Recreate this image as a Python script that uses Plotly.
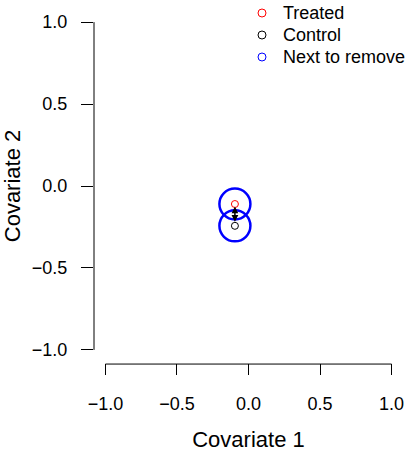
import plotly.graph_objects as go

# data
treated_x = [-0.095]
treated_y = [-0.110]
control_x = [-0.095]
control_y = [-0.243]
remove_x = [-0.095, -0.095]
remove_y = [-0.110, -0.243]
tick_vals = [-1.0, -0.5, 0.0, 0.5, 1.0]
tick_text = ["\u22121.0", "\u22120.5", "0.0", "0.5", "1.0"]
legend_names = ["Treated", "Control", "Next to remove"]
legend_colors = ["#FF0000", "black", "#0000FF"]

FONT = "Liberation Sans, Arial, Helvetica, sans-serif"
FS = 18

W, H = 407, 452
ML, MR, MT, MB = 94, 4, 9, 89
PW = W - ML - MR
PH = H - MT - MB


def px_to_paper(xp, yp):
    return (xp - ML) / PW, 1 - (yp - MT) / PH


fig = go.Figure()

# big blue circles
fig.add_trace(go.Scatter(x=remove_x, y=remove_y, mode="markers", showlegend=False,
                         marker=dict(symbol="circle-open", size=31, color="#0000FF",
                                     line=dict(width=2.5, color="#0000FF"))))
fig.add_trace(go.Scatter(x=treated_x, y=treated_y, mode="markers", showlegend=False,
                         marker=dict(symbol="circle-open", size=7, color="#FF0000",
                                     line=dict(width=1, color="#FF0000"))))
fig.add_trace(go.Scatter(x=control_x, y=control_y, mode="markers", showlegend=False,
                         marker=dict(symbol="circle-open", size=7, color="black",
                                     line=dict(width=1, color="black"))))

# double-headed arrow between control and treated
fig.add_annotation(x=treated_x[0], y=treated_y[0], ax=control_x[0], ay=control_y[0],
                   xref="x", yref="y", axref="x", ayref="y", text="",
                   showarrow=True, arrowhead=2, startarrowhead=2, arrowside="end+start",
                   arrowsize=0.9, startarrowsize=0.9, arrowwidth=1.5, arrowcolor="black",
                   standoff=2.5, startstandoff=2.5)

# axis lines (R style, only across tick range)
fig.add_shape(type="line", xref="x", yref="paper", x0=-1, x1=1, y0=-0.003, y1=-0.003,
              line=dict(color="black", width=1))
fig.add_shape(type="line", xref="paper", yref="y", x0=0, x1=0, y0=-1, y1=1,
              line=dict(color="black", width=1))

# manual legend (R style)
for i, (name, col) in enumerate(zip(legend_names, legend_colors)):
    ypix = 13 + 22 * i
    mx, my = px_to_paper(262, ypix)
    tx, _ = px_to_paper(281, ypix)
    fig.add_shape(type="circle", xref="paper", yref="paper", xsizemode="pixel",
                  ysizemode="pixel", xanchor=mx, yanchor=my, x0=-4, x1=4, y0=-4, y1=4,
                  line=dict(color=col, width=1))
    fig.add_annotation(x=tx, y=my, xref="paper", yref="paper", text=name,
                       showarrow=False, xanchor="left", yanchor="middle",
                       font=dict(size=FS, color="black"))

fig.update_layout(
    width=W, height=H,
    margin=dict(l=ML, r=MR, t=MT, b=MB, autoexpand=False),
    plot_bgcolor="white", paper_bgcolor="white",
    font=dict(family=FONT, size=FS, color="black"),
    showlegend=False,
    xaxis=dict(range=[-1.08, 1.08], showgrid=False, zeroline=False, showline=False,
               tickvals=tick_vals, ticktext=tick_text, ticks="outside", ticklen=11,
               tickcolor="black", tickwidth=1, automargin=False, ticklabelstandoff=13,
               title=dict(text="Covariate 1", standoff=19)),
    yaxis=dict(range=[-1.08, 1.08], showgrid=False, zeroline=False, showline=False,
               tickvals=tick_vals, ticktext=tick_text, ticks="outside", ticklen=12,
               tickcolor="black", tickwidth=1, automargin=False, ticklabelstandoff=10,
               title=dict(text="Covariate 2", standoff=8)),
)

fig.write_html("out.html", config={"displayModeBar": False},
               post_script="document.body.style.margin='0';document.body.style.overflow='hidden';")
